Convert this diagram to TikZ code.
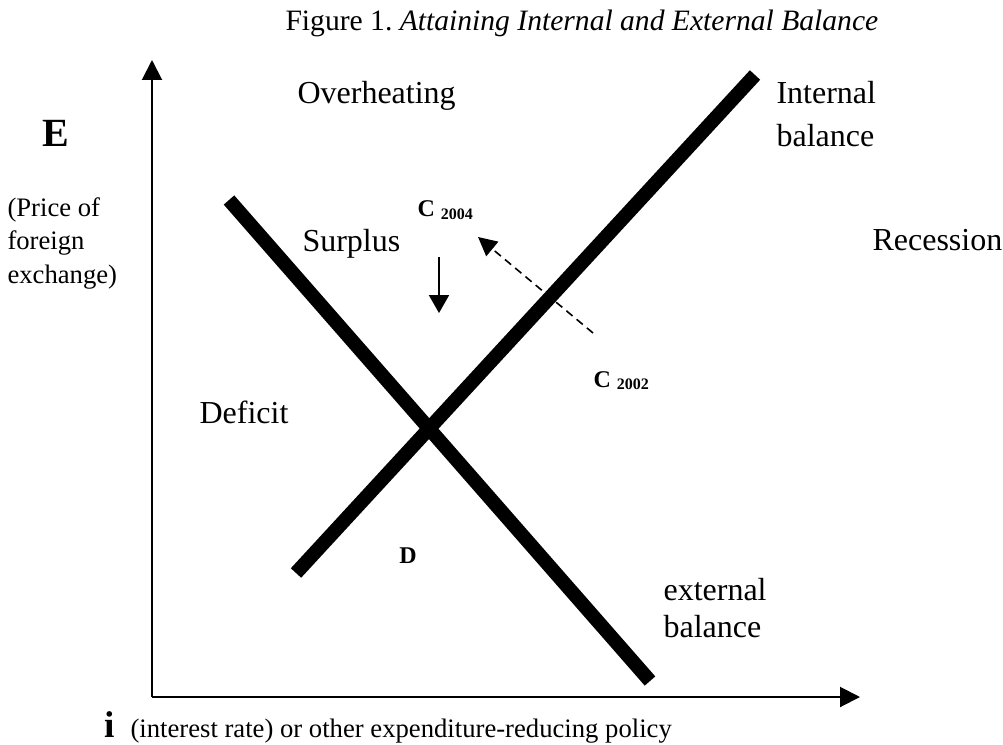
\documentclass[tikz,border=0pt]{standalone}
\usepackage{fontspec}
\setmainfont{Liberation Serif}
\usetikzlibrary{arrows.meta}

\begin{document}
\begin{tikzpicture}[x=0.375pt,y=-0.375pt,
        every node/.style={inner sep=0pt},
        lbl/.style={font=\fontsize{12}{16.1}\selectfont},
        note/.style={font=\fontsize{10}{12.6}\selectfont},
        biglbl/.style={font=\fontsize{14}{16}\selectfont\bfseries},
        ptlbl/.style={font=\fontsize{9}{10}\selectfont\bfseries},
        axis/.style={line width=0.75pt,-{Triangle[length=7.5pt,width=7.5pt]}},
        balline/.style={line width=5.25pt},
        movearrow/.style={line width=0.75pt,-{Triangle[length=6.75pt,width=7.5pt]}},
        dashmove/.style={line width=0.6pt,dash pattern=on 3pt off 2pt,-{Triangle[length=7pt,width=7pt]}}]
  \useasboundingbox (0,0) rectangle (1003,745);
  % title
  \node[anchor=base west, font=\fontsize{11.1}{13}\selectfont] (title) at (285,31)
    {Figure 1.\ \textit{Attaining Internal and External Balance}};
  % axes
  \coordinate (O) at (152,697);
  \coordinate (ytop) at (152,60);
  \coordinate (xend) at (860,697);
  \draw[axis] (O) -- (ytop);
  \draw[axis] (O) -- (xend);
  \node[biglbl, font=\fontsize{15}{17}\selectfont\bfseries] (E) at (56,133) {E};
  \node[note, align=left, anchor=north west] (Eunit) at (7,197) {(Price of\\foreign\\exchange)};
  \node[biglbl, anchor=base west] (i) at (104,737) {i};
  \node[note, anchor=base west] (iunit) at (130,737) {(interest rate) or other expenditure-reducing policy};
  % balance lines
  \coordinate (ext1) at (229,200);
  \coordinate (ext2) at (650,681);
  \coordinate (int1) at (296,573);
  \coordinate (int2) at (755,75);
  \draw[balline] (ext1) -- (ext2);
  \draw[balline] (int1) -- (int2);
  % zones
  \node[lbl, anchor=base west] (over) at (297,104) {Overheating};
  \node[lbl, anchor=base west] (rec) at (872,250) {Recession};
  \node[lbl, anchor=base west] (surp) at (302,251) {Surplus};
  \node[lbl, anchor=base west] (def) at (199,423) {Deficit};
  \node[lbl, align=left, anchor=north west] (intbal) at (776,81) {Internal\\balance};
  \node[lbl, align=left, anchor=north west, font=\fontsize{12}{13.9}\selectfont] (extbal) at (663,578) {external\\balance};
  % points
  \node[ptlbl, anchor=base west] (c2004) at (417,217) {C \textsubscript{2004}};
  \node[ptlbl, anchor=base west] (c2002) at (593,387) {C \textsubscript{2002}};
  \node[ptlbl] (D) at (408,556) {D};
  % moves
  \coordinate (down1) at (439,257);
  \coordinate (down2) at (439,313);
  \coordinate (dash1) at (593,333);
  \coordinate (dash2) at (478,237);
  \draw[movearrow] (down1) -- (down2);
  \draw[dashmove] (dash1) -- (dash2);
\end{tikzpicture}
\end{document}
